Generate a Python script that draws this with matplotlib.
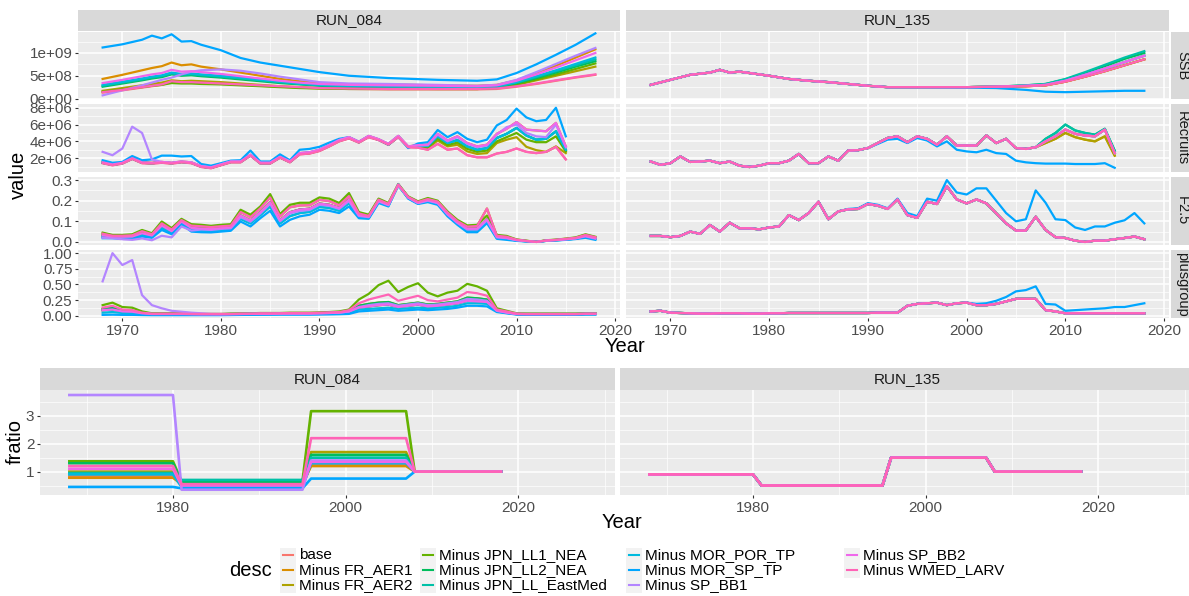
import matplotlib
matplotlib.use("Agg")
import matplotlib.pyplot as plt
from matplotlib.lines import Line2D
from matplotlib.patches import Rectangle

plt.rcParams["font.family"] = ["Liberation Sans", "DejaVu Sans"]

desc = ["base", "Minus FR_AER1", "Minus FR_AER2", "Minus JPN_LL1_NEA",
        "Minus JPN_LL2_NEA", "Minus JPN_LL_EastMed", "Minus MOR_POR_TP",
        "Minus MOR_SP_TP", "Minus SP_BB1", "Minus SP_BB2", "Minus WMED_LARV"]
colors = ["#F8766D", "#DB8E00", "#AEA200", "#64B200", "#00BD5C", "#00C1A7",
          "#00BADE", "#00A6FF", "#B385FF", "#EF67EB", "#FF63B6"]

years = list(range(1968, 2019))
rec_years = list(range(1968, 2016))

# ---------------- RUN_084 : SSB (x1e8) ----------------
ssb_years_084 = [1968, 1970, 1972, 1973, 1974, 1975, 1976, 1977, 1978, 1980, 1982, 1984, 1986,
                 1988, 1990, 1993, 1997, 2002, 2006, 2008, 2010, 2012, 2014, 2016, 2018]
ssb84_base = [1.3, 1.8, 2.4, 2.7, 3.0, 3.6, 3.5, 3.5, 3.4, 3.2, 3.0, 2.8, 2.6, 2.4, 2.2, 2.1, 2.0, 2.0, 2.0, 2.1, 2.6, 3.2, 3.9, 4.6, 5.2]
ssb84_fr1 = [4.3, 5.2, 6.2, 6.7, 7.1, 7.9, 7.3, 7.5, 7.0, 6.4, 5.7, 5.0, 4.3, 3.8, 3.4, 3.1, 3.1, 2.9, 2.8, 3.0, 4.0, 5.6, 7.2, 9.0, 10.8]
ssb84_fr2 = [1.7, 2.3, 2.9, 3.2, 3.5, 4.0, 3.8, 3.9, 3.8, 3.6, 3.3, 3.0, 2.7, 2.5, 2.3, 2.2, 2.2, 2.1, 2.1, 2.3, 3.0, 4.0, 5.0, 6.0, 7.0]
ssb84_ll1 = [1.5, 2.0, 2.5, 2.8, 3.0, 3.4, 3.3, 3.3, 3.2, 3.1, 2.9, 2.7, 2.5, 2.3, 2.2, 2.1, 2.1, 2.1, 2.1, 2.3, 3.1, 4.2, 5.3, 6.5, 7.7]
ssb84_ll2 = [2.6, 3.3, 4.0, 4.4, 4.7, 5.3, 5.0, 5.1, 4.9, 4.6, 4.2, 3.8, 3.4, 3.1, 2.8, 2.6, 2.5, 2.4, 2.3, 2.5, 3.4, 4.5, 5.7, 7.0, 8.2]
ssb84_emed = [2.8, 3.5, 4.2, 4.6, 4.9, 5.5, 5.2, 5.3, 5.1, 4.8, 4.4, 4.0, 3.6, 3.2, 2.9, 2.7, 2.6, 2.5, 2.4, 2.6, 3.5, 4.7, 6.0, 7.3, 8.6]
ssb84_mpor = [3.0, 3.7, 4.4, 4.8, 5.1, 5.7, 5.4, 5.5, 5.3, 5.0, 4.6, 4.1, 3.7, 3.3, 3.0, 2.8, 2.7, 2.6, 2.5, 2.7, 3.6, 4.9, 6.2, 7.6, 9.0]
ssb84_msp = [11.2, 11.9, 12.9, 13.8, 13.2, 14.1, 12.5, 12.6, 11.8, 10.6, 8.9, 7.9, 7.2, 6.5, 5.8, 5.0, 4.5, 4.1, 3.9, 4.2, 5.6, 7.5, 9.6, 11.8, 14.3]
ssb84_bb1 = [0.7, 1.8, 2.9, 3.5, 4.1, 4.6, 5.3, 5.9, 6.2, 6.4, 6.1, 5.5, 4.8, 4.2, 3.6, 3.3, 3.2, 3.0, 2.8, 3.0, 4.1, 5.8, 7.6, 9.4, 11.1]
ssb84_bb2 = [3.4, 4.1, 4.9, 5.3, 5.6, 6.3, 5.9, 6.0, 5.8, 5.4, 4.9, 4.4, 3.9, 3.5, 3.2, 3.0, 2.9, 2.8, 2.7, 2.9, 3.9, 5.3, 6.8, 8.4, 10.0]
ssb84_wmed = [1.4, 1.9, 2.5, 2.8, 3.1, 3.8, 3.6, 3.6, 3.5, 3.3, 3.1, 2.9, 2.7, 2.5, 2.3, 2.2, 2.1, 2.1, 2.1, 2.2, 2.7, 3.3, 4.0, 4.7, 5.3]

# ---------------- RUN_084 : Recruits (x1e6), 1968-2015 ----------------
rec84_lo = [1.4, 1.15, 1.35, 1.9, 1.4, 1.35, 1.45, 1.35, 1.5, 1.4, 0.95, 0.8, 1.15, 1.5, 1.5, 2.3,
            1.35, 1.35, 2.05, 1.5, 2.45, 2.55, 2.85, 3.4, 4.0, 4.35, 3.85, 4.5, 4.15, 3.6, 4.5, 3.3,
            3.25, 3.0, 3.7, 3.0, 3.15, 2.35, 2.1, 2.1, 2.55, 2.75, 3.15, 2.75, 2.6, 2.75, 3.35, 1.85]
rec84_olive = [1.45, 1.2, 1.4, 1.95, 1.45, 1.4, 1.5, 1.4, 1.55, 1.45, 1.0, 0.85, 1.2, 1.55, 1.55, 2.35,
               1.4, 1.4, 2.1, 1.55, 2.5, 2.6, 2.9, 3.45, 4.05, 4.4, 3.9, 4.55, 4.2, 3.6, 4.55, 3.35,
               3.35, 3.2, 4.1, 3.4, 3.6, 2.8, 2.5, 2.6, 3.8, 4.2, 4.5, 3.35, 2.95, 2.75, 3.4, 2.6]
rec84_ml = [1.45, 1.2, 1.4, 1.95, 1.45, 1.4, 1.5, 1.4, 1.55, 1.45, 1.0, 0.85, 1.2, 1.55, 1.55, 2.35,
            1.4, 1.4, 2.1, 1.55, 2.5, 2.6, 2.9, 3.45, 4.05, 4.4, 3.9, 4.55, 4.2, 3.6, 4.55, 3.35,
            3.35, 3.3, 4.3, 3.55, 3.85, 3.1, 2.75, 2.9, 4.0, 4.5, 5.0, 4.2, 3.9, 3.9, 4.6, 2.8]
rec84_m = [1.45, 1.2, 1.4, 1.95, 1.45, 1.4, 1.5, 1.4, 1.55, 1.45, 1.0, 0.85, 1.2, 1.55, 1.55, 2.35,
           1.4, 1.4, 2.1, 1.55, 2.55, 2.65, 2.95, 3.5, 4.1, 4.45, 3.9, 4.6, 4.2, 3.65, 4.6, 3.35,
           3.45, 3.45, 4.6, 3.8, 4.15, 3.4, 3.0, 3.2, 4.4, 4.9, 5.6, 4.7, 4.2, 4.3, 5.2, 3.0]
rec84_mh = [1.5, 1.25, 1.45, 2.0, 1.5, 1.45, 1.55, 1.45, 1.6, 1.5, 1.05, 0.9, 1.25, 1.6, 1.6, 2.4,
            1.45, 1.45, 2.15, 1.6, 2.6, 2.7, 3.0, 3.55, 4.15, 4.5, 3.95, 4.65, 4.25, 3.7, 4.65, 3.4,
            3.55, 3.6, 4.9, 4.1, 4.6, 3.8, 3.4, 3.6, 4.9, 5.5, 6.3, 5.4, 5.3, 5.2, 6.2, 3.4]
rec84_msp = [1.75, 1.45, 1.55, 2.25, 1.75, 1.85, 2.3, 2.3, 2.2, 2.25, 1.3, 1.1, 1.4, 1.7, 1.75, 2.9,
             1.6, 1.6, 2.45, 1.75, 3.0, 3.1, 3.35, 3.85, 4.3, 4.5, 3.95, 4.6, 4.2, 3.6, 4.55, 3.2,
             3.75, 3.9, 5.35, 4.5, 5.1, 4.3, 3.9, 4.2, 5.9, 6.55, 7.9, 6.85, 6.4, 6.55, 8.0, 4.6]
rec84_bb1 = [2.75, 2.35, 3.15, 5.75, 5.0, 1.85, 1.55, 1.45, 1.6, 1.5, 1.05, 0.9, 1.25, 1.6, 1.6, 2.4,
             1.45, 1.45, 2.15, 1.6, 2.6, 2.7, 3.0, 3.55, 4.15, 4.5, 3.95, 4.65, 4.25, 3.7, 4.65, 3.4,
             3.5, 3.55, 4.8, 4.0, 4.5, 3.7, 3.3, 3.5, 4.8, 5.7, 6.0, 5.0, 4.6, 4.5, 6.0, 3.3]

# ---------------- RUN_084 : F2.5 ----------------
f84_hi = [0.045, 0.034, 0.034, 0.037, 0.058, 0.042, 0.099, 0.067, 0.112, 0.086,
          0.083, 0.078, 0.083, 0.086, 0.156, 0.132, 0.172, 0.232, 0.135, 0.18,
          0.19, 0.19, 0.216, 0.21, 0.189, 0.237, 0.145, 0.132, 0.21, 0.189,
          0.281, 0.221, 0.197, 0.213, 0.2, 0.148, 0.107, 0.08, 0.083, 0.128,
          0.034, 0.029, 0.012, 0.006, 0.0, 0.008, 0.011, 0.016, 0.022, 0.037, 0.025]
f84_mh = [0.04, 0.03, 0.03, 0.032, 0.052, 0.037, 0.09, 0.06, 0.106, 0.079,
          0.076, 0.072, 0.076, 0.079, 0.145, 0.12, 0.163, 0.215, 0.124, 0.168,
          0.177, 0.178, 0.204, 0.198, 0.178, 0.222, 0.138, 0.126, 0.205, 0.185,
          0.279, 0.218, 0.194, 0.208, 0.196, 0.143, 0.101, 0.074, 0.077, 0.162,
          0.03, 0.025, 0.011, 0.005, 0.0, 0.007, 0.01, 0.015, 0.02, 0.034, 0.023]
f84_m = [0.032, 0.026, 0.025, 0.026, 0.042, 0.031, 0.079, 0.052, 0.099, 0.068,
         0.065, 0.062, 0.067, 0.07, 0.128, 0.104, 0.144, 0.192, 0.105, 0.144,
         0.157, 0.161, 0.186, 0.18, 0.165, 0.205, 0.13, 0.122, 0.2, 0.18,
         0.276, 0.216, 0.19, 0.203, 0.19, 0.136, 0.095, 0.064, 0.065, 0.11,
         0.025, 0.02, 0.009, 0.004, 0.0, 0.006, 0.009, 0.013, 0.018, 0.029, 0.018]
f84_ml = [0.025, 0.022, 0.02, 0.02, 0.034, 0.026, 0.068, 0.045, 0.092, 0.059,
          0.056, 0.054, 0.058, 0.062, 0.112, 0.09, 0.13, 0.172, 0.09, 0.125,
          0.14, 0.146, 0.17, 0.165, 0.152, 0.188, 0.122, 0.117, 0.194, 0.176,
          0.273, 0.213, 0.187, 0.198, 0.185, 0.13, 0.089, 0.055, 0.056, 0.1,
          0.02, 0.015, 0.007, 0.003, 0.0, 0.005, 0.008, 0.011, 0.016, 0.025, 0.014]
f84_lo = [0.018, 0.018, 0.015, 0.015, 0.026, 0.02, 0.058, 0.037, 0.086, 0.05,
          0.047, 0.046, 0.05, 0.054, 0.099, 0.075, 0.115, 0.151, 0.075, 0.107,
          0.124, 0.132, 0.156, 0.151, 0.14, 0.172, 0.115, 0.112, 0.189, 0.172,
          0.28, 0.21, 0.184, 0.193, 0.18, 0.124, 0.083, 0.047, 0.047, 0.091,
          0.015, 0.01, 0.005, 0.002, 0.0, 0.005, 0.007, 0.01, 0.014, 0.02, 0.01]
f84_bb1 = [0.02, 0.018, 0.013, 0.01, 0.017, 0.008, 0.03, 0.022, 0.075, 0.055,
           0.06, 0.058, 0.063, 0.066, 0.12, 0.098, 0.138, 0.185, 0.1, 0.138,
           0.15, 0.155, 0.18, 0.175, 0.16, 0.198, 0.126, 0.12, 0.197, 0.178,
           0.275, 0.215, 0.188, 0.2, 0.188, 0.133, 0.092, 0.06, 0.06, 0.105,
           0.022, 0.018, 0.008, 0.004, 0.0, 0.006, 0.009, 0.012, 0.017, 0.027, 0.016]

# ---------------- RUN_084 : plusgroup ----------------
pg84_hi = [0.17, 0.21, 0.14, 0.13, 0.07, 0.04, 0.04, 0.04, 0.04, 0.035,
           0.03, 0.03, 0.03, 0.035, 0.04, 0.04, 0.045, 0.045, 0.045, 0.05,
           0.05, 0.05, 0.055, 0.06, 0.07, 0.1, 0.26, 0.35, 0.49, 0.56,
           0.38, 0.46, 0.52, 0.37, 0.31, 0.37, 0.40, 0.51, 0.47, 0.40,
           0.12, 0.08, 0.04, 0.035, 0.035, 0.035, 0.035, 0.035, 0.035, 0.04, 0.04]
pg84_wmed = [0.13, 0.16, 0.1, 0.09, 0.05, 0.035, 0.035, 0.035, 0.035, 0.03,
             0.03, 0.03, 0.03, 0.03, 0.035, 0.035, 0.04, 0.04, 0.04, 0.045,
             0.045, 0.045, 0.05, 0.055, 0.06, 0.09, 0.2, 0.26, 0.3, 0.34,
             0.24, 0.28, 0.32, 0.25, 0.23, 0.26, 0.29, 0.38, 0.36, 0.32,
             0.1, 0.07, 0.035, 0.03, 0.03, 0.03, 0.03, 0.03, 0.03, 0.035, 0.035]
pg84_mh = [0.11, 0.13, 0.09, 0.08, 0.045, 0.03, 0.03, 0.03, 0.03, 0.03,
           0.025, 0.025, 0.025, 0.03, 0.03, 0.035, 0.035, 0.035, 0.04, 0.04,
           0.04, 0.04, 0.045, 0.05, 0.055, 0.08, 0.16, 0.19, 0.21, 0.22,
           0.17, 0.19, 0.21, 0.18, 0.19, 0.21, 0.23, 0.29, 0.28, 0.26,
           0.09, 0.06, 0.03, 0.03, 0.03, 0.03, 0.03, 0.03, 0.03, 0.035, 0.035]
pg84_m = [0.09, 0.1, 0.07, 0.065, 0.04, 0.028, 0.028, 0.028, 0.028, 0.025,
          0.022, 0.022, 0.022, 0.025, 0.028, 0.03, 0.03, 0.03, 0.035, 0.035,
          0.035, 0.035, 0.04, 0.045, 0.05, 0.07, 0.13, 0.15, 0.17, 0.18,
          0.14, 0.16, 0.18, 0.15, 0.16, 0.18, 0.2, 0.24, 0.23, 0.22,
          0.08, 0.05, 0.028, 0.025, 0.025, 0.025, 0.025, 0.025, 0.025, 0.03, 0.03]
pg84_ml = [0.05, 0.06, 0.045, 0.04, 0.03, 0.02, 0.02, 0.02, 0.02, 0.02,
           0.018, 0.018, 0.018, 0.02, 0.022, 0.024, 0.025, 0.025, 0.028, 0.028,
           0.028, 0.028, 0.03, 0.035, 0.04, 0.05, 0.1, 0.11, 0.12, 0.13,
           0.11, 0.12, 0.13, 0.12, 0.13, 0.14, 0.16, 0.2, 0.2, 0.19,
           0.07, 0.045, 0.025, 0.02, 0.02, 0.02, 0.02, 0.02, 0.02, 0.025, 0.025]
pg84_lo = [0.015, 0.018, 0.015, 0.015, 0.012, 0.01, 0.01, 0.01, 0.01, 0.01,
           0.01, 0.01, 0.01, 0.012, 0.014, 0.015, 0.016, 0.017, 0.018, 0.018,
           0.018, 0.018, 0.02, 0.022, 0.025, 0.03, 0.07, 0.08, 0.09, 0.1,
           0.08, 0.09, 0.1, 0.09, 0.1, 0.11, 0.13, 0.16, 0.16, 0.15,
           0.06, 0.04, 0.02, 0.015, 0.015, 0.015, 0.015, 0.015, 0.015, 0.02, 0.02]
pg84_bb1 = [0.55, 1.0, 0.81, 0.89, 0.33, 0.17, 0.12, 0.08, 0.065, 0.05,
            0.04, 0.03, 0.028, 0.028, 0.03, 0.032, 0.033, 0.033, 0.036, 0.036,
            0.036, 0.036, 0.04, 0.045, 0.05, 0.07, 0.14, 0.17, 0.19, 0.2,
            0.16, 0.18, 0.2, 0.17, 0.18, 0.2, 0.22, 0.27, 0.26, 0.24,
            0.085, 0.055, 0.03, 0.028, 0.028, 0.028, 0.028, 0.028, 0.028, 0.032, 0.032]

# ---------------- RUN_135 ----------------
ssb_years_135 = [1968, 1970, 1972, 1974, 1975, 1976, 1977, 1978, 1980, 1982, 1984, 1986, 1988,
                 1990, 1992, 1995, 2000, 2003, 2006, 2008, 2010, 2012, 2014, 2016, 2018]
ssb135_early = [3.0, 4.1, 5.2, 5.7, 6.3, 5.7, 5.9, 5.6, 5.0, 4.3, 3.9, 3.6, 3.2, 2.8, 2.5, 2.5, 2.5, 2.6]
ssb135_emed = ssb135_early + [2.9, 3.2, 4.3, 5.8, 7.4, 9.0, 10.4]
ssb135_ll2 = ssb135_early + [2.9, 3.2, 4.2, 5.6, 7.1, 8.7, 10.0]
ssb135_m = ssb135_early + [2.8, 3.0, 3.9, 5.2, 6.6, 8.0, 9.4]
ssb135_lo = ssb135_early + [2.7, 2.9, 3.7, 4.8, 6.0, 7.3, 8.6]
ssb135_msp = [3.0, 4.1, 5.2, 5.7, 6.3, 5.7, 5.9, 5.6, 5.0, 4.3, 3.9, 3.6, 3.2, 2.8, 2.5, 2.5,
              2.4, 2.3, 1.9, 1.5, 1.4, 1.5, 1.6, 1.7, 1.7]

rec135_early = [1.6, 1.2, 1.4, 2.2, 1.55, 1.6, 1.7, 1.4, 1.6, 1.1,
                0.95, 1.1, 1.4, 1.4, 1.7, 2.5, 1.4, 1.4, 2.2, 1.7,
                2.9, 2.95, 3.2, 3.8, 4.4, 4.6, 3.9, 4.6, 4.3, 3.6,
                4.6, 3.5, 3.5, 3.5, 4.7, 3.8, 4.3, 3.2, 3.1, 3.3]
rec135_hi = rec135_early + [4.3, 5.0, 6.0, 5.3, 5.0, 4.8, 5.5, 2.9]
rec135_m = rec135_early + [4.0, 4.6, 5.4, 4.9, 4.7, 4.6, 5.4, 2.6]
rec135_lo = rec135_early + [3.8, 4.3, 5.0, 4.5, 4.2, 4.0, 4.6, 2.3]
rec135_msp = [1.6, 1.2, 1.4, 2.2, 1.55, 1.6, 1.7, 1.4, 1.6, 1.1,
              0.95, 1.1, 1.4, 1.4, 1.7, 2.5, 1.4, 1.4, 2.2, 1.7,
              2.9, 2.95, 3.2, 3.7, 4.2, 4.3, 3.8, 4.4, 4.1, 3.4,
              4.0, 3.0, 2.8, 2.7, 3.0, 2.6, 2.5, 1.7, 1.5, 1.4,
              1.35, 1.35, 1.35, 1.3, 1.3, 1.3, 1.4, 0.85]

f135 = [0.029, 0.029, 0.023, 0.029, 0.05, 0.039, 0.082, 0.05, 0.093, 0.066,
        0.066, 0.061, 0.07, 0.075, 0.13, 0.106, 0.14, 0.195, 0.11, 0.148,
        0.158, 0.16, 0.184, 0.176, 0.16, 0.206, 0.13, 0.117, 0.195, 0.184,
        0.27, 0.206, 0.187, 0.206, 0.187, 0.139, 0.09, 0.055, 0.055, 0.122,
        0.058, 0.023, 0.019, 0.006, 0.0, 0.006, 0.006, 0.013, 0.019, 0.026, 0.013]
f135_msp = [0.029, 0.029, 0.023, 0.029, 0.05, 0.039, 0.082, 0.05, 0.093, 0.066,
            0.066, 0.061, 0.07, 0.075, 0.13, 0.106, 0.14, 0.195, 0.11, 0.148,
            0.16, 0.163, 0.188, 0.18, 0.163, 0.21, 0.14, 0.125, 0.21, 0.2,
            0.3, 0.24, 0.23, 0.26, 0.26, 0.2, 0.14, 0.1, 0.11, 0.25,
            0.19, 0.11, 0.106, 0.07, 0.058, 0.075, 0.075, 0.093, 0.105, 0.14, 0.09]

pg135 = [0.07, 0.08, 0.05, 0.045, 0.04, 0.035, 0.035, 0.04, 0.04, 0.04,
         0.035, 0.035, 0.04, 0.04, 0.045, 0.045, 0.045, 0.045, 0.045, 0.045,
         0.045, 0.045, 0.045, 0.05, 0.05, 0.05, 0.16, 0.19, 0.2, 0.21,
         0.17, 0.2, 0.21, 0.17, 0.17, 0.19, 0.23, 0.27, 0.27, 0.27,
         0.09, 0.07, 0.04, 0.04, 0.04, 0.04, 0.04, 0.04, 0.04, 0.04, 0.04]
pg135_msp = [0.07, 0.08, 0.05, 0.045, 0.04, 0.035, 0.035, 0.04, 0.04, 0.04,
             0.035, 0.035, 0.04, 0.04, 0.045, 0.045, 0.045, 0.045, 0.045, 0.045,
             0.045, 0.045, 0.045, 0.05, 0.05, 0.05, 0.16, 0.19, 0.2, 0.21,
             0.17, 0.2, 0.21, 0.19, 0.2, 0.24, 0.3, 0.39, 0.41, 0.47,
             0.19, 0.18, 0.08, 0.09, 0.1, 0.11, 0.12, 0.14, 0.14, 0.17, 0.2]

# ---------------- fratio (segments 1968-80, 1981-95, 1996-2007, 2008-18) ----------------
fr84_base = [0.85] * 13 + [0.5] * 15 + [1.25] * 12 + [1.0] * 11
fr84_fr1 = [0.78] * 13 + [0.55] * 15 + [1.2] * 12 + [1.0] * 11
fr84_fr2 = [1.0] * 13 + [0.6] * 15 + [1.7] * 12 + [1.0] * 11
fr84_ll1 = [1.37] * 13 + [0.65] * 15 + [3.17] * 12 + [1.0] * 11
fr84_ll2 = [1.3] * 13 + [0.62] * 15 + [1.6] * 12 + [1.0] * 11
fr84_emed = [0.95] * 13 + [0.7] * 15 + [1.5] * 12 + [1.0] * 11
fr84_mpor = [0.9] * 13 + [0.45] * 15 + [1.3] * 12 + [1.0] * 11
fr84_msp = [0.45] * 13 + [0.4] * 15 + [0.75] * 12 + [1.0] * 11
fr84_bb1 = [3.75] * 13 + [0.35] * 15 + [1.4] * 12 + [1.0] * 11
fr84_bb2 = [1.1] * 13 + [0.5] * 15 + [1.35] * 12 + [1.0] * 11
fr84_wmed = [1.2] * 13 + [0.55] * 15 + [2.2] * 12 + [1.0] * 11
fr135 = [0.9] * 13 + [0.5] * 15 + [1.5] * 12 + [1.0] * 11

# series per panel, in desc order
ssb_084 = [ssb84_base, ssb84_fr1, ssb84_fr2, ssb84_ll1, ssb84_ll2, ssb84_emed,
           ssb84_mpor, ssb84_msp, ssb84_bb1, ssb84_bb2, ssb84_wmed]
rec_084 = [rec84_lo, rec84_mh, rec84_olive, rec84_ml, rec84_m, rec84_m,
           rec84_m, rec84_msp, rec84_bb1, rec84_mh, rec84_lo]
f_084 = [f84_m, f84_m, f84_mh, f84_hi, f84_m, f84_ml, f84_ml, f84_lo, f84_bb1, f84_m, f84_mh]
pg_084 = [pg84_m, pg84_m, pg84_mh, pg84_hi, pg84_mh, pg84_m, pg84_ml, pg84_lo,
          pg84_bb1, pg84_m, pg84_wmed]
ssb_135 = [ssb135_lo, ssb135_lo, ssb135_lo, ssb135_m, ssb135_ll2, ssb135_emed,
           ssb135_m, ssb135_msp, ssb135_m, ssb135_m, ssb135_lo]
rec_135 = [rec135_m, rec135_lo, rec135_lo, rec135_m, rec135_hi, rec135_hi,
           rec135_m, rec135_msp, rec135_m, rec135_m, rec135_m]
f_135 = [f135] * 7 + [f135_msp] + [f135] * 3
pg_135 = [pg135] * 7 + [pg135_msp] + [pg135] * 3
fr_084 = [fr84_base, fr84_fr1, fr84_fr2, fr84_ll1, fr84_ll2, fr84_emed,
          fr84_mpor, fr84_msp, fr84_bb1, fr84_bb2, fr84_wmed]
fr_135 = [fr135] * 11

W, H = 1189, 596
fig = plt.figure(figsize=(W / 100, H / 100), dpi=100)


def box(x0, y0, x1, y1):
    return [x0 / W, 1 - y1 / H, (x1 - x0) / W, (y1 - y0) / H]


def panel(x0, y0, x1, y1, xlim, xmaj, xmin, ylim, ymaj, ymin, xlab, ylab):
    ax = fig.add_axes(box(x0, y0, x1, y1))
    ax.set_facecolor("#EBEBEB")
    for s in ax.spines.values():
        s.set_visible(False)
    ax.set_xlim(xlim)
    ax.set_ylim(ylim)
    ax.set_xticks(xmaj)
    ax.set_xticks(xmin, minor=True)
    ax.set_yticks(ymaj)
    ax.set_yticks(ymin, minor=True)
    ax.grid(which="major", color="white", lw=1.1)
    ax.grid(which="minor", color="white", lw=0.5)
    ax.set_axisbelow(True)
    ax.tick_params(which="minor", length=0)
    ax.tick_params(which="major", length=2.5, width=0.8, color="#333333",
                   labelcolor="#4D4D4D", labelsize=11, pad=1.5)
    if xlab:
        ax.set_xticklabels([str(v) for v in xmaj])
    else:
        ax.tick_params(axis="x", which="major", labelbottom=False, length=0)
    if ylab is not None:
        ax.set_yticklabels(ylab)
    else:
        ax.tick_params(axis="y", which="major", labelleft=False, length=0)
    return ax


def strip(x0, y0, x1, y1, label, rot=0, size=11):
    ax = fig.add_axes(box(x0, y0, x1, y1))
    ax.set_facecolor("#D9D9D9")
    for s in ax.spines.values():
        s.set_visible(False)
    ax.set_xticks([])
    ax.set_yticks([])
    ax.text(0.5, 0.5, label, transform=ax.transAxes, ha="center", va="center",
            rotation=rot, fontsize=size, color="#1A1A1A", clip_on=True)


# ---- top facet grid ----
cols = [(78, 620), (626, 1169)]
rows = [(32, 99), (104, 172), (177, 245), (250, 318)]
row_names = ["SSB", "Recruits", "F2.5", "plusgroup"]
top_xmaj = [1970, 1980, 1990, 2000, 2010, 2020]
top_xmin = [1975, 1985, 1995, 2005, 2015]
ylims = [(-0.01e9, 1.46e9), (0.35e6, 8.45e6), (-0.015, 0.315), (-0.035, 1.05)]
ymajs = [[0, 5e8, 1e9], [2e6, 4e6, 6e6, 8e6], [0, 0.1, 0.2, 0.3], [0, 0.25, 0.5, 0.75, 1.0]]
ymins = [[2.5e8, 7.5e8, 1.25e9], [1e6, 3e6, 5e6, 7e6], [0.05, 0.15, 0.25],
         [0.125, 0.375, 0.625, 0.875]]
ylabs = [["0e+00", "5e+08", "1e+09"], ["2e+06", "4e+06", "6e+06", "8e+06"],
         ["0.0", "0.1", "0.2", "0.3"], ["0.00", "0.25", "0.50", "0.75", "1.00"]]

runs = [
    [(ssb_years_084, ssb_084, 1e8), (rec_years, rec_084, 1e6), (years, f_084, 1), (years, pg_084, 1)],
    [(ssb_years_135, ssb_135, 1e8), (rec_years, rec_135, 1e6), (years, f_135, 1), (years, pg_135, 1)],
]

for c, (cx0, cx1) in enumerate(cols):
    strip(cx0, 10, cx1, 31, ["RUN_084", "RUN_135"][c])
    for r, (ry0, ry1) in enumerate(rows):
        ax = panel(cx0, ry0, cx1, ry1, (1965.5, 2020.5), top_xmaj, top_xmin,
                   ylims[r], ymajs[r], ymins[r], r == 3, ylabs[r] if c == 0 else None)
        xs, series, scale = runs[c][r]
        for k in range(len(desc)):
            ax.plot(xs, [v * scale for v in series[k]], color=colors[k], lw=1.6,
                    solid_joinstyle="round")
        if c == 1:
            strip(1171, ry0, 1193, ry1, row_names[r], rot=-90, size=10.5)

fig.text(18 / W, 1 - 175 / H, "value", rotation=90, ha="center", va="center",
         fontsize=14.5, color="black")
fig.text(625 / W, 1 - 347 / H, "Year", ha="center", va="center", fontsize=14.5)

# ---- bottom facet wrap (fratio) ----
bcols = [(40, 615), (620, 1195)]
for c, (cx0, cx1) in enumerate(bcols):
    strip(cx0, 368, cx1, 390, ["RUN_084", "RUN_135"][c])
    ax = panel(cx0, 390, cx1, 495, (1964.6, 2031.2), [1980, 2000, 2020],
               [1970, 1990, 2010, 2030], (0.16, 3.93), [1, 2, 3], [0.5, 1.5, 2.5, 3.5],
               True, ["1", "2", "3"] if c == 0 else None)
    series = [fr_084, fr_135][c]
    for k in range(len(desc)):
        ax.plot(years, series[k], color=colors[k], lw=1.9, solid_joinstyle="round")

fig.text(15 / W, 1 - 442 / H, "fratio", rotation=90, ha="center", va="center", fontsize=14.5)
fig.text(622 / W, 1 - 522 / H, "Year", ha="center", va="center", fontsize=14.5)

# ---- legend ----
lg = fig.add_axes([0, 0, 1, 1])
lg.set_xlim(0, W)
lg.set_ylim(H, 0)
lg.axis("off")
lg.text(250, 571, "desc", ha="center", va="center", fontsize=14.5)
col_x = [288, 428, 634, 852]
row_y = [555, 570, 585]
for k, name in enumerate(desc):
    cx = col_x[k // 3]
    cy = row_y[k % 3]
    lg.add_patch(Rectangle((cx - 8, cy - 7.5), 16, 15, facecolor="#F2F2F2", edgecolor="none"))
    lg.add_line(Line2D([cx - 5, cx + 5], [cy, cy], color=colors[k], lw=1.5))
    lg.text(cx + 11, cy, name, ha="left", va="center", fontsize=11, color="black")

fig.savefig("out.png", dpi=100)
